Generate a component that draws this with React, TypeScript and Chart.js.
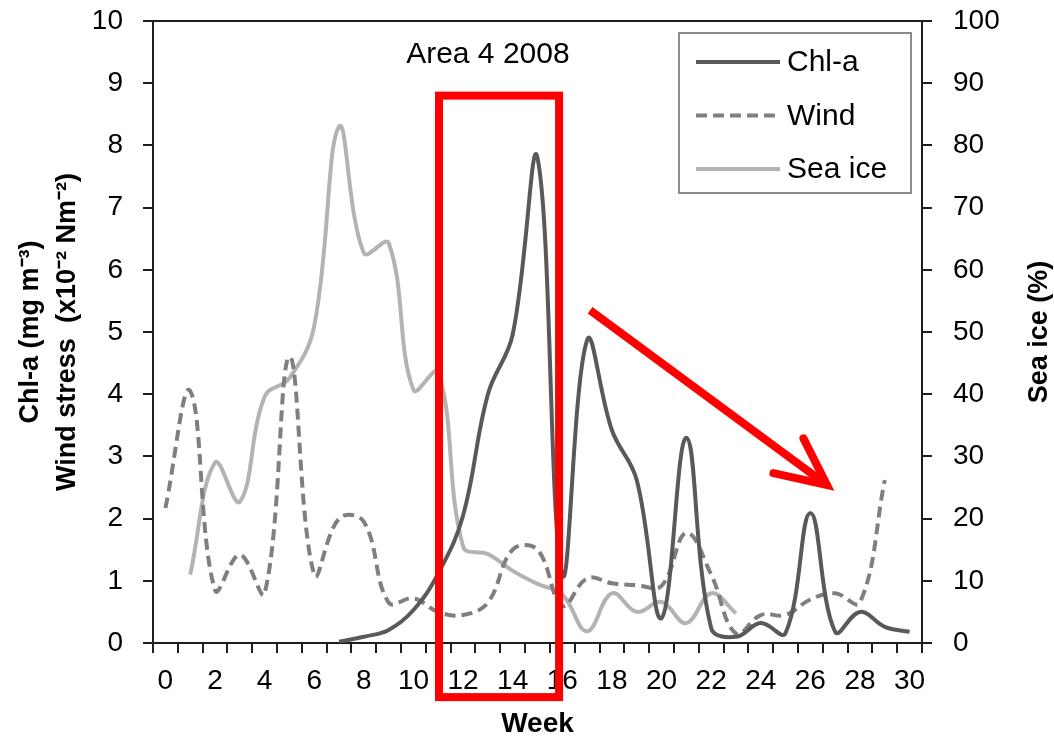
import React, { useEffect, useRef } from 'react';
import { Chart, registerables } from 'chart.js';

Chart.register(...registerables);

const FONT = "'Liberation Sans', Arial, sans-serif";

// Category labels (weeks)
const weeks = ['0', '1', '2', '3', '4', '5', '6', '7', '8', '9', '10', '11', '12', '13', '14', '15', '16', '17', '18', '19', '20', '21', '22', '23', '24', '25', '26', '27', '28', '29', '30'];

// Chl-a (mg m-3), left axis
const chlA = [null, null, null, null, null, null, null, 0.02, 0.1, 0.21, 0.53, 1.12, 2.05, 4.0, 4.96, 7.8, 1.1, 4.87, 3.42, 2.62, 0.4, 3.3, 0.24, 0.1, 0.32, 0.16, 2.09, 0.18, 0.5, 0.26, 0.18];

// Wind stress (x10-2 N m-2), left axis
const wind = [2.17, 4.05, 0.85, 1.42, 0.8, 4.6, 1.1, 2.0, 1.95, 0.65, 0.72, 0.5, 0.45, 0.65, 1.5, 1.5, 0.6, 1.04, 0.96, 0.93, 0.92, 1.77, 1.1, 0.15, 0.45, 0.45, 0.7, 0.8, 0.65, 2.62, null];

// Sea ice (%), right axis
const seaIce = [null, 11, 29, 22.7, 39.6, 42.6, 51, 83, 62.7, 64.3, 40.7, 43.6, 15.5, 14.3, 11.6, 9.5, 7.8, 1.9, 8, 5, 6.6, 3.2, 8, 4.8, null, null, null, null, null, null, null];

const seriesNames = ['Chl-a', 'Wind', 'Sea ice'];
const leftTicks = [0, 1, 2, 3, 4, 5, 6, 7, 8, 9, 10];
const rightTicks = [0, 10, 20, 30, 40, 50, 60, 70, 80, 90, 100];

const chartTitle = 'Area 4 2008';
const titleAt = { x: 13, y: 9.45 };

// Annotation positions in data units (x: week index, y: left axis units)
const highlightBox = { x0: 11.03, x1: 15.87, y0: -0.87, y1: 8.8 };
const arrowShaft = { x0: 17.12, y0: 5.35, x1: 26.67, y1: 2.54 };
const arrowBarbs = [{ x: 24.51, y: 2.73 }, { x: 25.72, y: 3.29 }];

const COLORS = { chl: '#595959', wind: '#7f7f7f', ice: '#b3b3b3', axis: '#1e1e1e', red: '#ff0000' };

const overlayPlugin = {
  id: 'overlay',
  afterDatasetsDraw(chart: any) {
    const { ctx, chartArea } = chart;
    const xs = chart.scales.x;
    const ys = chart.scales.y;
    ctx.save();
    // top border
    ctx.strokeStyle = COLORS.axis;
    ctx.lineWidth = 2;
    ctx.beginPath();
    ctx.moveTo(chartArea.left, chartArea.top);
    ctx.lineTo(chartArea.right, chartArea.top);
    ctx.stroke();

    // title
    ctx.fillStyle = '#000';
    ctx.font = `30px ${FONT}`;
    ctx.textAlign = 'center';
    ctx.textBaseline = 'middle';
    ctx.fillText(chartTitle, xs.getPixelForValue(titleAt.x), ys.getPixelForValue(titleAt.y));

    // legend
    const boxR = chartArea.right - 11;
    const boxL = boxR - 232;
    const boxT = chartArea.top + 12;
    const boxB = boxT + 160;
    ctx.fillStyle = '#fff';
    ctx.fillRect(boxL, boxT, boxR - boxL, boxB - boxT);
    ctx.strokeStyle = '#8c8c8c';
    ctx.lineWidth = 2;
    ctx.strokeRect(boxL, boxT, boxR - boxL, boxB - boxT);
    const styles = [
      { c: COLORS.chl, dash: [] as number[] },
      { c: COLORS.wind, dash: [11, 6] },
      { c: COLORS.ice, dash: [] as number[] },
    ];
    seriesNames.forEach((name, i) => {
      const y = boxT + 29 + i * 53.5;
      ctx.strokeStyle = styles[i].c;
      ctx.lineWidth = 4;
      ctx.setLineDash(styles[i].dash);
      ctx.beginPath();
      ctx.moveTo(boxL + 17, y);
      ctx.lineTo(boxL + 101, y);
      ctx.stroke();
      ctx.setLineDash([]);
      ctx.fillStyle = '#000';
      ctx.font = `30px ${FONT}`;
      ctx.textAlign = 'left';
      ctx.textBaseline = 'middle';
      ctx.fillText(name, boxL + 108, y + 1);
    });

    // right axis title, rotated reading upward
    ctx.save();
    ctx.translate(1040, (chartArea.top + chartArea.bottom) / 2);
    ctx.rotate(-Math.PI / 2);
    ctx.fillStyle = '#000';
    ctx.font = `bold 27px ${FONT}`;
    ctx.textAlign = 'center';
    ctx.textBaseline = 'middle';
    ctx.fillText('Sea ice (%)', 0, 0);
    ctx.restore();

    // red highlight box
    ctx.strokeStyle = COLORS.red;
    ctx.lineWidth = 8;
    const rx0 = xs.getPixelForValue(highlightBox.x0);
    const rx1 = xs.getPixelForValue(highlightBox.x1);
    const ry0 = ys.getPixelForValue(highlightBox.y1);
    const ry1 = ys.getPixelForValue(highlightBox.y0);
    ctx.strokeRect(rx0, ry0, rx1 - rx0, ry1 - ry0);

    // red arrow
    const sx = xs.getPixelForValue(arrowShaft.x0);
    const sy = ys.getPixelForValue(arrowShaft.y0);
    const tx = xs.getPixelForValue(arrowShaft.x1);
    const ty = ys.getPixelForValue(arrowShaft.y1);
    ctx.lineCap = 'butt';
    ctx.beginPath();
    ctx.moveTo(sx, sy);
    ctx.lineTo(tx - (tx - sx) * 0.02, ty - (ty - sy) * 0.02);
    ctx.stroke();
    ctx.lineCap = 'round';
    ctx.lineJoin = 'miter';
    ctx.miterLimit = 10;
    ctx.beginPath();
    ctx.moveTo(xs.getPixelForValue(arrowBarbs[0].x), ys.getPixelForValue(arrowBarbs[0].y));
    ctx.lineTo(tx, ty);
    ctx.lineTo(xs.getPixelForValue(arrowBarbs[1].x), ys.getPixelForValue(arrowBarbs[1].y));
    ctx.stroke();
    ctx.restore();
  },
};

export default function App() {
  const ref = useRef<HTMLCanvasElement | null>(null);
  useEffect(() => {
    if (!ref.current) return;
    Chart.defaults.font.family = FONT;
    const axisGrid = { drawOnChartArea: false, drawTicks: true, tickLength: 10, color: COLORS.axis, lineWidth: 2 };
    const chart = new Chart(ref.current, {
      type: 'line',
      data: {
        labels: weeks,
        datasets: [
          { label: seriesNames[0], data: chlA, yAxisID: 'y', borderColor: COLORS.chl, borderWidth: 4, pointRadius: 0, tension: 0.4, fill: false },
          { label: seriesNames[1], data: wind, yAxisID: 'y', borderColor: COLORS.wind, borderWidth: 4, borderDash: [11, 6], pointRadius: 0, tension: 0.4, fill: false },
          { label: seriesNames[2], data: seaIce, yAxisID: 'y1', borderColor: COLORS.ice, borderWidth: 4, pointRadius: 0, tension: 0.4, fill: false },
        ],
      },
      options: {
        animation: false,
        responsive: false,
        devicePixelRatio: 1,
        layout: { padding: { top: 21, left: 0, right: 0, bottom: 0 } },
        plugins: { legend: { display: false }, tooltip: { enabled: false }, title: { display: false } },
        scales: {
          x: {
            type: 'category',
            offset: true,
            grid: { ...axisGrid, offset: true },
            border: { display: true, color: COLORS.axis, width: 2 },
            ticks: {
              autoSkip: false,
              maxRotation: 0,
              padding: 11,
              color: '#000',
              font: { size: 28, family: FONT },
              callback: (_v: any, i: number) => (i % 2 === 0 ? weeks[i] : ''),
            },
            title: { display: true, text: 'Week', color: '#000', font: { size: 28, weight: 'bold', family: FONT }, padding: { top: 0, bottom: 0 } },
            afterFit: (s: any) => { s.height = 98; s.paddingLeft = 0; s.paddingRight = 0; },
          },
          y: {
            position: 'left',
            min: 0,
            max: 10,
            grid: axisGrid,
            border: { display: true, color: COLORS.axis, width: 2 },
            afterBuildTicks: (s: any) => { s.ticks = leftTicks.map((v) => ({ value: v })); },
            ticks: { padding: 20, color: '#000', font: { size: 28, family: FONT } },
            title: {
              display: true,
              text: ['Chl-a (mg m\u207B\u00B3)', 'Wind stress  (x10\u207B\u00B2 Nm\u207B\u00B2)'],
              color: '#000',
              font: { size: 27, weight: 'bold', family: FONT, lineHeight: 1.37 },
              padding: { top: 12, bottom: 0 },
            },
            afterFit: (s: any) => { s.width = 153; s.paddingTop = 0; s.paddingBottom = 0; },
          },
          y1: {
            position: 'right',
            min: 0,
            max: 100,
            grid: axisGrid,
            border: { display: true, color: COLORS.axis, width: 2 },
            afterBuildTicks: (s: any) => { s.ticks = rightTicks.map((v) => ({ value: v })); },
            ticks: { padding: 21, color: '#000', font: { size: 28, family: FONT } },
            title: { display: false },
            afterFit: (s: any) => { s.width = 132; s.paddingTop = 0; s.paddingBottom = 0; },
          },
        },
      },
      plugins: [overlayPlugin],
    } as any);
    return () => chart.destroy();
  }, []);
  return (
    <div style={{ position: 'fixed', left: 0, top: 0, width: 1054, height: 741, background: '#fff' }}>
      <canvas ref={ref} width={1054} height={741} style={{ display: 'block' }} />
    </div>
  );
}
